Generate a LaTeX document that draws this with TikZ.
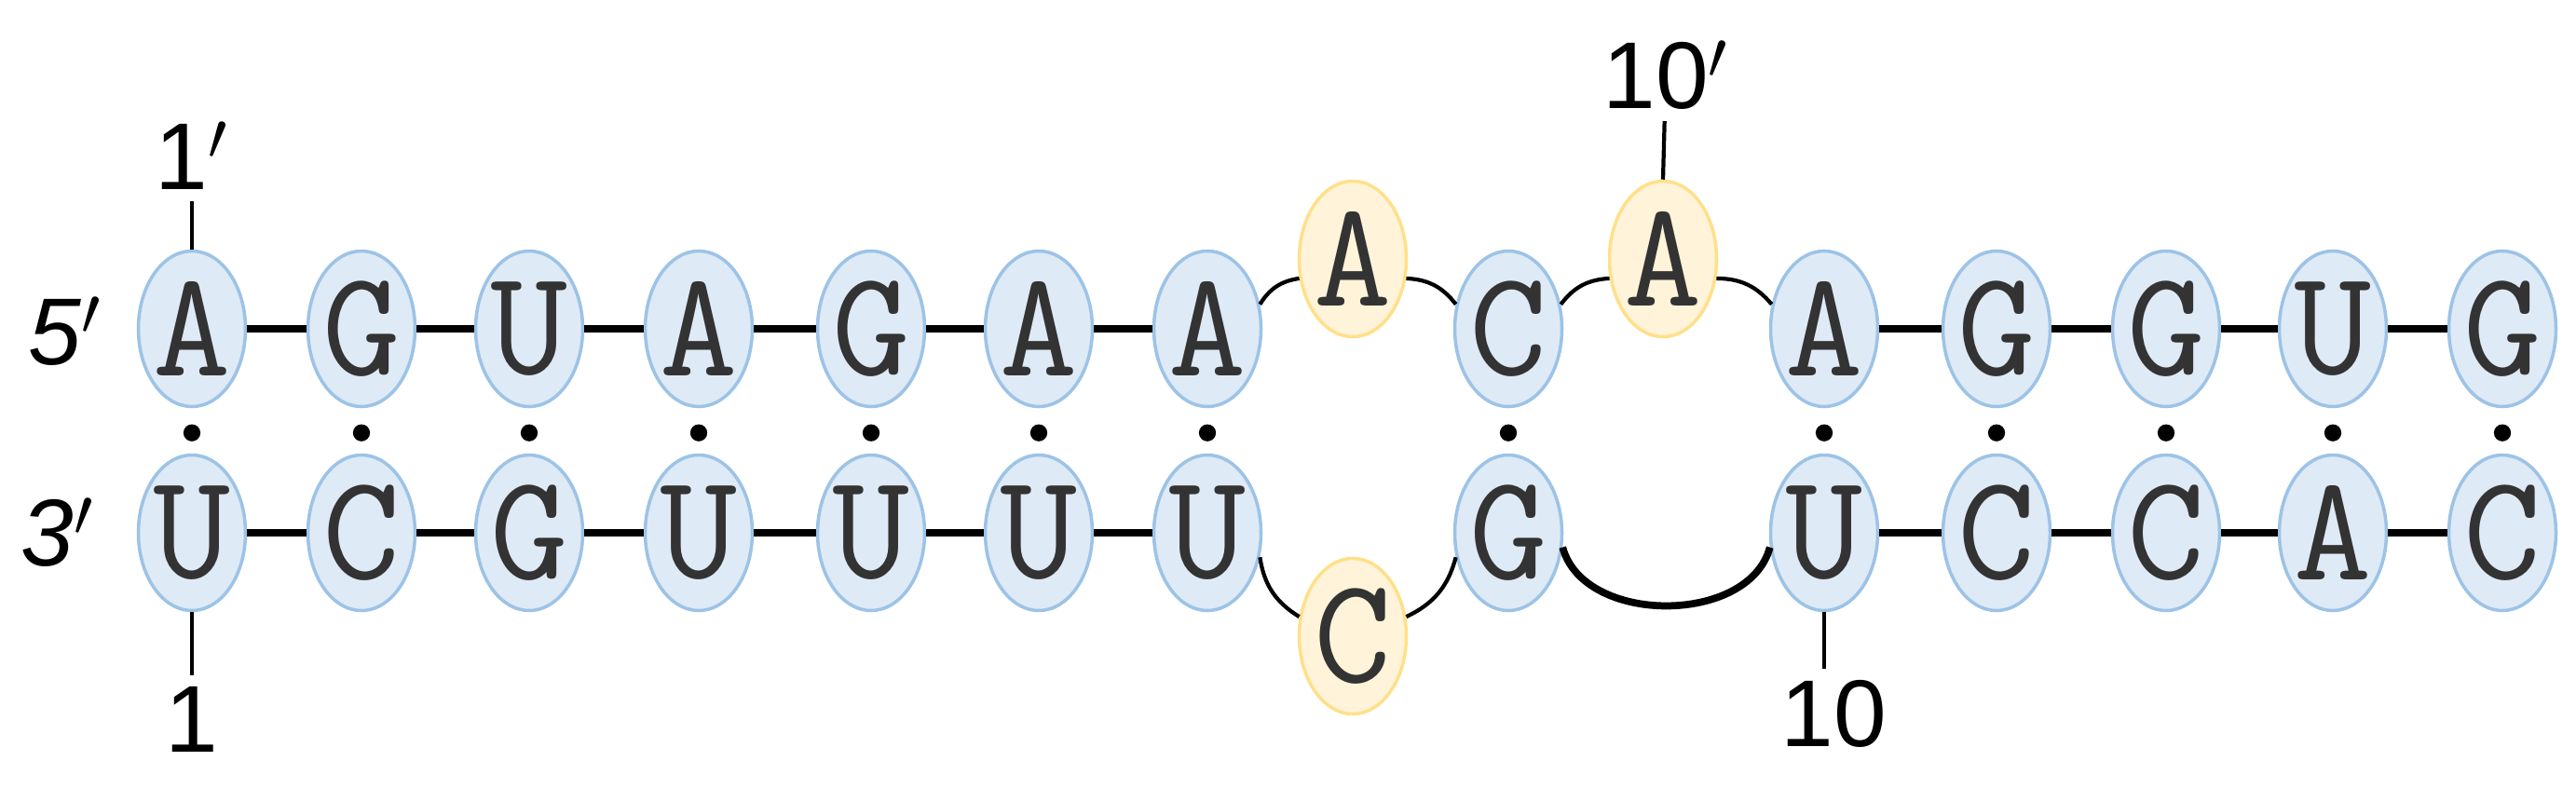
\documentclass[tikz,border=0pt]{standalone}
\usepackage{fontspec}
\setmainfont{Liberation Sans}
\usetikzlibrary{calc}
\usetikzlibrary{shapes.geometric}
\definecolor{paircol}{HTML}{DEEAF6}
\definecolor{pairline}{HTML}{9DC3E6}
\definecolor{bulgecol}{HTML}{FFF4D9}
\definecolor{bulgeline}{HTML}{FFE08A}

\begin{document}
\begin{tikzpicture}
        [
        base/.style={ellipse,draw=pairline,fill=paircol,line width=1pt,minimum width=1.15cm,minimum height=1.67cm,inner xsep=-0.25cm,inner ysep=0pt,font=\ttfamily\fontsize{46}{46}\selectfont,text=black!80},
        bulge/.style={base,draw=bulgeline,fill=bulgecol},
        lab/.style={font=\fontsize{29}{29}\selectfont},
        bond/.style={line width=2.2pt},
        loop/.style={line width=1.2pt}
        ]
        \useasboundingbox (0,0) rectangle (27.65,-8.46);
        % top strand
        \node[base] (t1) at (2.06,-3.53) {A};
        \node[base] (t2) at (3.88,-3.53) {G};
        \node[base] (t3) at (5.68,-3.53) {U};
        \node[base] (t4) at (7.50,-3.53) {A};
        \node[base] (t5) at (9.35,-3.53) {G};
        \node[base] (t6) at (11.15,-3.53) {A};
        \node[base] (t7) at (12.96,-3.53) {A};
        \node[bulge] (ya1) at (14.52,-2.78) {A};
        \node[base] (t8) at (16.19,-3.53) {C};
        \node[bulge] (ya2) at (17.85,-2.78) {A};
        \node[base] (t9) at (19.58,-3.53) {A};
        \node[base] (t10) at (21.43,-3.53) {G};
        \node[base] (t11) at (23.25,-3.53) {G};
        \node[base] (t12) at (25.04,-3.53) {U};
        \node[base] (t13) at (26.86,-3.53) {G};
        % bottom strand
        \node[base] (b1) at (2.06,-5.72) {U};
        \node[base] (b2) at (3.88,-5.72) {C};
        \node[base] (b3) at (5.68,-5.72) {G};
        \node[base] (b4) at (7.50,-5.72) {U};
        \node[base] (b5) at (9.35,-5.72) {U};
        \node[base] (b6) at (11.15,-5.72) {U};
        \node[base] (b7) at (12.96,-5.72) {U};
        \node[bulge] (yc) at (14.52,-6.83) {C};
        \node[base] (b8) at (16.19,-5.72) {G};
        \node[base] (b9) at (19.58,-5.72) {U};
        \node[base] (b10) at (21.43,-5.72) {C};
        \node[base] (b11) at (23.25,-5.72) {C};
        \node[base] (b12) at (25.04,-5.72) {A};
        \node[base] (b13) at (26.86,-5.72) {C};

        \node[lab,font=\itshape\fontsize{29}{29}\selectfont] (five) at (0.70,-3.56) {5$'$};
        \node[lab,font=\itshape\fontsize{29}{29}\selectfont] (three) at (0.62,-5.72) {3$'$};
        \node[lab] (n1p) at (2.06,-1.67) {1$'$};
        \node[lab] (n10p) at (17.88,-0.81) {10$'$};
        \node[lab] (n1) at (2.06,-7.72) {1};
        \node[lab] (n10) at (19.68,-7.66) {10};

        \foreach \i/\j in {1/2,2/3,3/4,4/5,5/6,6/7,9/10,10/11,11/12,12/13} {
            \draw[bond] (t\i) -- (t\j);
            \draw[bond] (b\i) -- (b\j);
        }
        \foreach \i in {1,...,13}
            \fill ($(t\i)!0.51!(b\i)$) circle (2.6pt);

        \draw[loop] (t7.25) to[bend left=25] (ya1.200);
        \draw[loop] (ya1.-20) to[bend left=25] (t8.155);
        \draw[loop] (t8.25) to[bend left=25] (ya2.200);
        \draw[loop] (ya2.-20) to[bend left=25] (t9.155);
        \draw[loop] (b7.-25) to[bend right=25] (yc.160);
        \draw[loop] (yc.20) to[bend right=25] (b8.-155);
        \draw[bond] (b8.-15) to[bend right=75] (b9.-165);

        \draw[loop] (t1.north) -- (n1p);
        \draw[loop] (ya2.north) -- (n10p);
        \draw[loop] (b1.south) -- (n1);
        \draw[loop] (b9.south) -- (b9.south |- n10.north);
\end{tikzpicture}
\end{document}
